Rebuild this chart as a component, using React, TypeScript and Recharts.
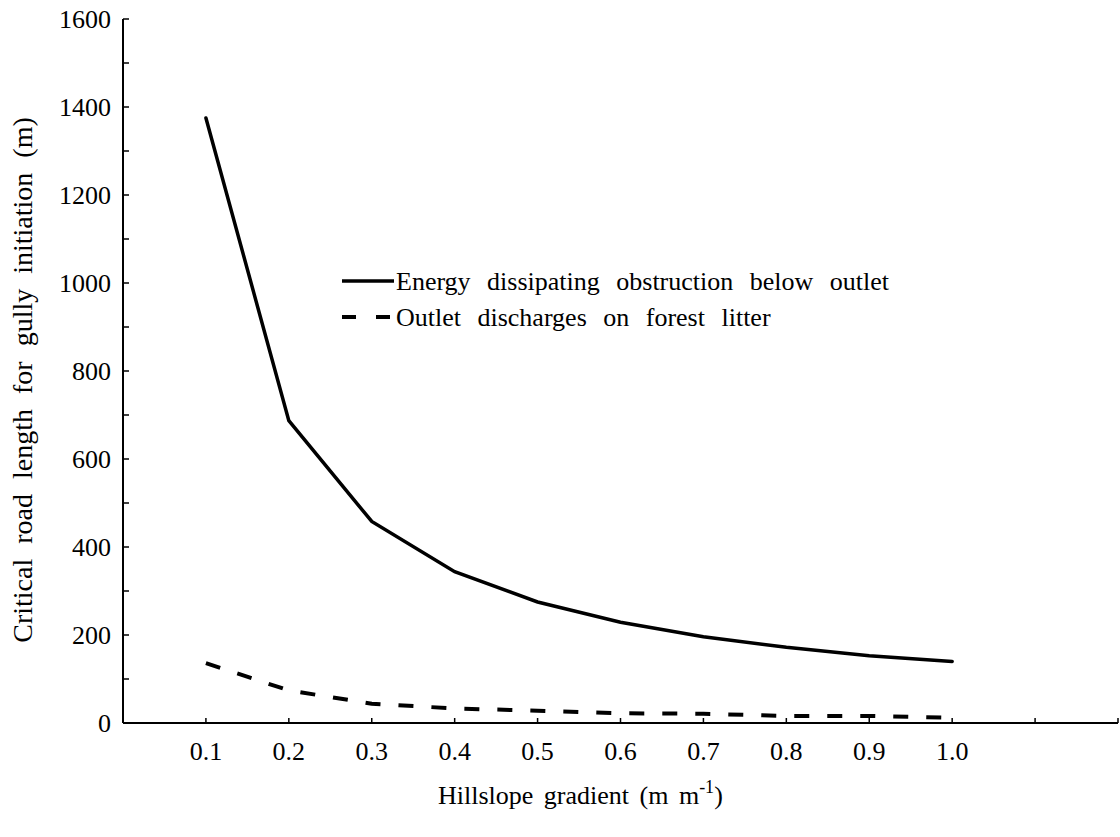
import React from "react";
import { LineChart, Line, XAxis, YAxis, Legend, Label } from "recharts";

// Hillslope gradient (m m^-1)
const gradient = [0.1, 0.2, 0.3, 0.4, 0.5, 0.6, 0.7, 0.8, 0.9, 1.0];
// Critical road length (m) with an energy dissipating obstruction below the outlet
const obstructionLength = [1375, 687, 458, 344, 275, 229, 196, 172, 153, 140];
// Critical road length (m) when the outlet discharges on forest litter
const litterLength = [136, 74, 44, 33, 28, 22, 21, 16, 16, 12];

const xTicks = [0.1, 0.2, 0.3, 0.4, 0.5, 0.6, 0.7, 0.8, 0.9, 1.0, 1.1, 1.2];
const xLabelled = [0.1, 0.2, 0.3, 0.4, 0.5, 0.6, 0.7, 0.8, 0.9, 1.0];
const yTicks = [0, 100, 200, 300, 400, 500, 600, 700, 800, 900, 1000, 1100, 1200, 1300, 1400, 1500, 1600];
const yLabelled = [0, 200, 400, 600, 800, 1000, 1200, 1400, 1600];

const seriesNames = [
  "Energy dissipating obstruction below outlet",
  "Outlet discharges on forest litter",
];

const data = gradient.map((g, i) => ({
  gradient: g,
  obstruction: obstructionLength[i],
  litter: litterLength[i],
}));

const FONT = "'Liberation Serif', 'Times New Roman', serif";
const FS = 26;
const textStyle: React.CSSProperties = { fontFamily: FONT, fontSize: FS, fill: "#000" };

const XTick = (props: any) => {
  const { x, y, payload } = props;
  const v = payload.value;
  const show = xLabelled.some((t) => Math.abs(t - v) < 1e-9);
  return (
    <g>
      <line x1={x} x2={x} y1={y} y2={y - 5} stroke="#000" strokeWidth={1.5} />
      {show && (
        <text x={x} y={y + 37} textAnchor="middle" style={textStyle}>
          {v.toFixed(1)}
        </text>
      )}
    </g>
  );
};

const YTick = (props: any) => {
  const { x, y, payload } = props;
  const v = payload.value;
  const show = yLabelled.includes(v);
  return (
    <g>
      <line x1={x} x2={x + 6} y1={y} y2={y} stroke="#000" strokeWidth={1.5} />
      {show && (
        <text x={x - 12} y={y + 9} textAnchor="end" style={textStyle}>
          {v}
        </text>
      )}
    </g>
  );
};

const LegendBox = () => (
  <svg width={620} height={70} style={{ display: "block" }}>
    <line x1={2} x2={54} y1={16} y2={16} stroke="#000" strokeWidth={3.5} />
    <text x={56} y={25} style={{ ...textStyle, wordSpacing: 10 }}>
      {seriesNames[0]}
    </text>
    <line x1={2} x2={52} y1={52} y2={52} stroke="#000" strokeWidth={4} strokeDasharray="14 20" />
    <text x={56} y={61} style={{ ...textStyle, wordSpacing: 10 }}>
      {seriesNames[1]}
    </text>
  </svg>
);

export default function App() {
  return (
    <div style={{ position: "absolute", left: 0, top: 0, background: "#fff" }}>
      <LineChart
        width={1120}
        height={837}
        data={data}
        margin={{ top: 19, right: 2, bottom: 0, left: 0 }}
      >
        <XAxis
          dataKey="gradient"
          type="number"
          domain={[0, 1.2]}
          ticks={xTicks}
          interval={0}
          height={114}
          tickSize={0}
          tickMargin={0}
          tickLine={false}
          tick={<XTick />}
          axisLine={{ stroke: "#000", strokeWidth: 2 }}
        >
          <Label
            position="insideTop"
            offset={0}
            content={() => (
              <text x={438} y={804} style={{ ...textStyle, wordSpacing: 4 }}>
                Hillslope gradient (m m
                <tspan dy={-11} style={{ fontSize: 18 }}>-1</tspan>
                <tspan dy={11}>)</tspan>
              </text>
            )}
          />
        </XAxis>
        <YAxis
          type="number"
          domain={[0, 1600]}
          ticks={yTicks}
          interval={0}
          width={123}
          tickSize={0}
          tickMargin={0}
          tickLine={false}
          tick={<YTick />}
          axisLine={{ stroke: "#000", strokeWidth: 2 }}
        >
          <Label
            position="insideLeft"
            content={() => (
              <text
                x={32}
                y={380}
                transform="rotate(-90 32 380)"
                textAnchor="middle"
                style={{ ...textStyle, fontSize: 28, wordSpacing: 8 }}
              >
                Critical road length for gully initiation (m)
              </text>
            )}
          />
        </YAxis>
        <Legend
          layout="vertical"
          align="center"
          verticalAlign="middle"
          content={() => <LegendBox />}
          wrapperStyle={{ left: 340, top: 265, width: 620, height: 70 }}
        />
        <Line
          type="linear"
          dataKey="obstruction"
          name={seriesNames[0]}
          stroke="#000"
          strokeWidth={3.5}
          strokeLinecap="round"
          dot={false}
          activeDot={false}
          isAnimationActive={false}
        />
        <Line
          type="linear"
          dataKey="litter"
          name={seriesNames[1]}
          stroke="#000"
          strokeWidth={4}
          strokeDasharray="15 18"
          dot={false}
          activeDot={false}
          isAnimationActive={false}
        />
      </LineChart>
    </div>
  );
}
